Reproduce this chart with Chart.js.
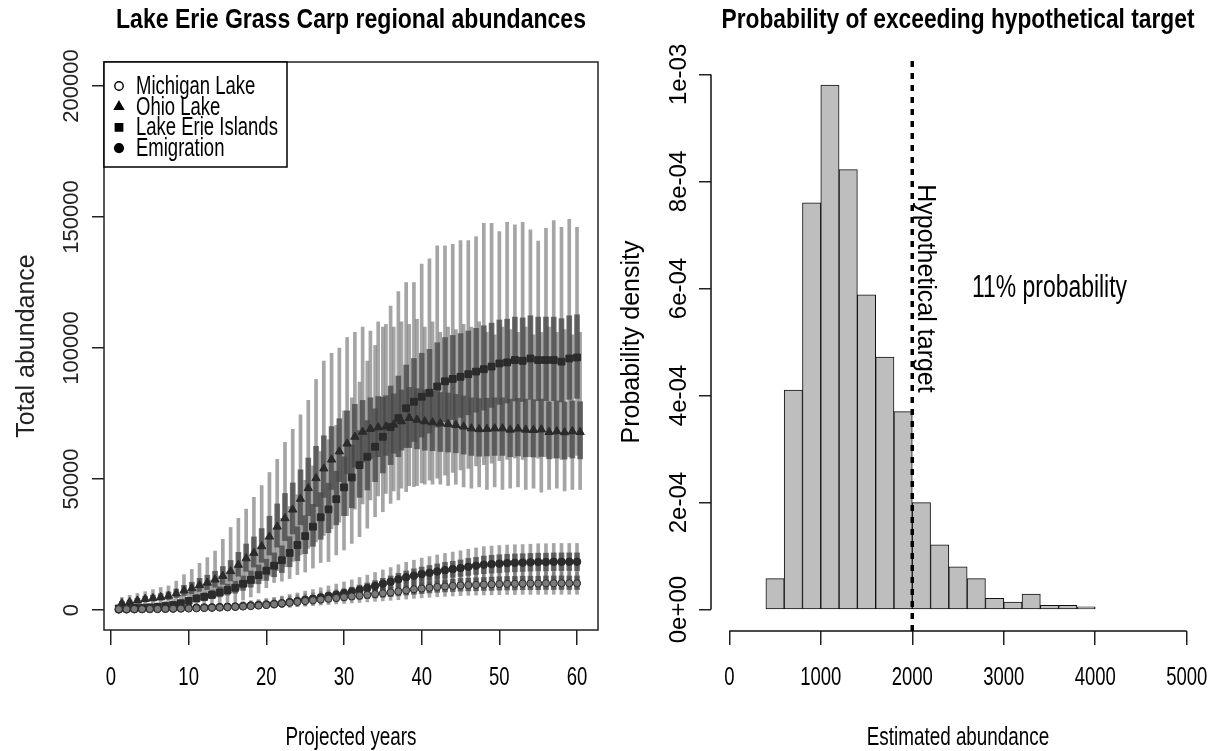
<!DOCTYPE html>
<html><head><meta charset="utf-8">
<script src="https://cdn.jsdelivr.net/npm/chart.js@4.4.1/dist/chart.umd.min.js"></script>
<style>
html,body{margin:0;padding:0;background:#fff;width:1211px;height:751px;overflow:hidden}
#c1{position:absolute;left:0;top:0}
#c2{position:absolute;left:605px;top:0}
</style></head><body>
<canvas id="c1" width="605" height="751"></canvas>
<canvas id="c2" width="606" height="751"></canvas>
<script>
// ---------------- DATA: left panel ----------------
const LEFT_TITLE = 'Lake Erie Grass Carp regional abundances';
const LEFT_X_TITLE = 'Projected years';
const LEFT_Y_TITLE = 'Total abundance';
const SERIES_NAMES = ['Michigan Lake', 'Ohio Lake', 'Lake Erie Islands', 'Emigration'];
const YEARS = [1,2,3,4,5,6,7,8,9,10,11,12,13,14,15,16,17,18,19,20,21,22,23,24,25,26,27,28,29,30,31,32,33,34,35,36,37,38,39,40,41,42,43,44,45,46,47,48,49,50,51,52,53,54,55,56,57,58,59,60];
const X_TICKS = [0,10,20,30,40,50,60];
const X_TICK_LABELS = ['0','10','20','30','40','50','60'];
const Y_TICKS = [0,50000,100000,150000,200000];
const Y_TICK_LABELS = ['0','50000','100000','150000','200000'];

const MICH_MEAN = [300,300,350,350,400,400,450,500,550,600, 650,750,850,950,1050,1200,1350,1500,1700,1900, 2200,2500,2800,3100,3400,3700,4000,4300,4600,4900, 5200,5500,5800,6100,6400,6700,7100,7500,7900,8200, 8500,8800,9000,9200,9400,9500,9600,9700,9800,9900, 10000,10000,10100,10100,10100,10200,10200,10200,10200,10200];
const MICH_LO95 = [0,0,0,0,0,0,0,50,50,100, 100,150,200,250,300,350,400,450,550,650, 800,950,1100,1300,1500,1700,1900,2100,2300,2500, 2700,2900,3100,3300,3500,3700,3950,4200,4450,4650, 4850,5050,5200,5350,5500,5600,5700,5750,5800,5850, 5900,5900,5950,5950,5950,6000,6000,6000,6000,6000];
const MICH_HI95 = [900,900,950,950,1000,1000,1100,1200,1300,1400, 1500,1700,1900,2100,2300,2600,2900,3200,3600,4000, 4500,5000,5400,5800,6200,6600,7000,7400,7800,8200, 8600,9000,9400,9800,10200,10600,11100,11600,12100,12500, 12900,13200,13400,13600,13800,13900,14000,14100,14200,14300, 14400,14400,14500,14500,14500,14600,14600,14600,14600,14600];
const MICH_Q25 = [150,150,200,200,250,250,300,300,350,400, 450,500,550,650,750,850,950,1050,1200,1350, 1550,1800,2000,2250,2500,2700,2950,3200,3400,3650, 3900,4100,4350,4600,4850,5100,5400,5700,6000,6250, 6500,6750,6900,7050,7200,7300,7350,7450,7500,7600, 7650,7650,7750,7750,7750,7800,7800,7800,7800,7800];
const MICH_Q75 = [450,450,500,500,550,550,600,700,750,800, 850,1000,1150,1250,1350,1550,1750,1950,2200,2450, 2850,3250,3600,4000,4400,4750,5150,5550,5900,6300, 6700,7100,7450,7850,8250,8600,9100,9650,10150,10550, 10900,11300,11550,11800,12050,12150,12300,12400,12550,12700, 12800,12800,12900,12900,12900,13000,13000,13000,13000,13000];

const OHIO_MEAN = [2600,3000,3600,4200,4500,4900,5400,6300,7400,8300, 9500,10400,11600,13000,14800,17200,19700,21800,24300,28000, 31800,35000,38300,42400,46500,50300,54000,57400,60500,63500, 66100,68000,69100,69700,70000,70800,72000,73300,72600,72000, 71600,71200,71000,70600,70000,69300,69000,69100,69300,69300, 68800,69200,68800,68700,68900,67900,68200,67800,68200,67900];
const OHIO_LO95 = [600,800,1000,1300,1500,1700,2000,2400,2900,3400, 4000,4500,5000,5800,6600,7800,9000,10000,11200,13000, 15000,16500,18500,21000,23500,26000,28500,31000,33500,36000, 38500,40500,42000,43500,44500,45500,46500,47500,47500,48000, 48000,48000,47500,48000,47000,46500,47000,46000,47000,46000, 46500,47000,46000,46500,45000,46000,46500,45500,46000,46000];
const OHIO_HI95 = [4800,5600,6300,7000,7800,8600,9200,11000,13500,15500, 17800,20000,22500,27000,31500,35000,38500,43000,47500,52500, 57500,64000,69000,74500,80000,88000,95000,98000,100000,104000, 106000,108000,106500,110000,109000,108000,110000,109000,111000,108000, 110000,106000,108000,107000,109000,108000,110000,106000,105000,108000, 107000,106000,108000,105000,106000,108000,106000,107000,105000,106000];
const OHIO_Q25 = [1900,2200,2700,3100,3400,3700,4000,4700,5500,6200, 7100,7800,8700,9800,11100,12900,14800,16400,18200,21000, 24000,26500,29000,32500,36000,39500,43000,46000,49000,52000, 54500,56500,57800,58500,59000,59800,61000,62000,61500,61000, 60800,60500,60300,60000,59500,59000,58700,58800,59000,59000, 58500,58800,58500,58400,58600,57700,58000,57600,58000,57700];
const OHIO_Q75 = [3300,3800,4500,5300,5700,6200,6900,8000,9400,10600, 12100,13300,14800,16600,18900,22000,25200,27900,31100,35800, 40500,44500,48500,53500,58000,62500,66500,70000,73000,76000, 78500,80000,81000,81500,81800,82500,84000,85000,84500,84000, 83500,83000,82800,82300,81700,81000,80700,80800,81000,81000, 80500,80800,80500,80300,80500,79500,79800,79400,79800,79500];

const LEI_MEAN = [600,700,800,900,1000,1200,1500,1900,2600,3500, 4400,5000,5800,6700,7600,8500,10000,11500,13300,15000, 16900,19000,21800,24800,28200,31800,35400,38400,42300,46800, 50600,55300,58500,62300,66100,69800,73200,77000,79500,81400, 82900,85300,87300,88200,89000,90000,91000,91900,92900,94100, 94500,95400,95100,96000,95400,95400,95400,94800,96000,96400];
const LEI_LO95 = [0,0,0,0,100,150,200,300,500,700, 900,1200,1500,1900,2400,3000,3800,5000,6500,8500, 10500,11000,12000,13500,14500,16000,18100,18500,21000,22900, 25400,28000,31200,35600,37500,40700,42000,45200,47100,48500, 49600,50300,51500,52500,53500,54000,55000,55500,56000,57000, 57500,58000,57500,58500,58000,58500,58000,57500,58500,59000];
const LEI_HI95 = [1500,1700,1900,2100,2400,2800,3400,4200,5500,7000, 8700,10000,11500,13000,14500,16000,18500,21000,24000,27500, 31000,35000,39500,44000,49500,55000,60500,65000,70500,76000, 81000,87000,95000,101000,108000,116000,121500,125000,125000,132000, 134000,139000,139000,139600,141000,141000,142500,147600,147600,144400, 148000,147000,148000,145100,140800,145700,148600,146100,149100,146100];
const LEI_Q25 = [300,400,500,550,650,800,1000,1300,1800,2500, 3200,3700,4300,5000,5700,6400,7500,8700,10000,11300, 12700,14300,16500,18800,21500,24300,27000,29500,32500,36000, 39000,43000,45800,49000,52300,55500,58500,62000,64300,66000, 67500,69800,71800,72700,73500,74500,75500,76300,77300,78500, 79000,79800,79600,80400,79900,79900,79900,79400,80400,80800];
const LEI_Q75 = [900,1000,1100,1300,1400,1700,2100,2600,3500,4700, 5800,6600,7600,8800,9900,11000,13000,14900,17200,19400, 21800,24500,28000,31800,36000,40300,44800,48400,53000,58500, 63000,68500,72300,76800,81200,85500,89300,93500,96000,98000, 99500,102000,104000,104800,105500,106500,107500,108500,109500,110700, 111000,111800,111500,112300,111800,111800,111800,111200,112300,112700];

const EMIG_MEAN = [200,250,300,350,400,450,500,550,650,750, 850,950,1000,1100,1200,1300,1500,1700,1900,2100, 2300,2600,3000,3400,3900,4300,4800,5300,5800,6400, 7000,7700,8400,9200,10000,10800,11700,12500,13100,13700, 14200,14700,15200,15600,16000,16500,16900,17300,17500,17700, 17900,18000,18100,18200,18300,18300,18400,18400,18400,18400];
const EMIG_LO95 = [0,0,0,0,0,0,0,50,100,150, 200,250,250,300,350,400,450,500,600,700, 800,950,1100,1300,1600,1900,2200,2600,3000,3400, 3800,4300,4800,5400,6000,6600,7200,7800,8300,8700, 9100,9500,9800,10100,10400,10700,11000,11300,11400,11500, 11700,11800,11800,11900,12000,12000,12000,12000,12000,12000];
const EMIG_HI95 = [700,750,800,900,1000,1100,1200,1300,1500,1700, 1900,2100,2200,2400,2600,2800,3200,3600,4000,4400, 4800,5300,5900,6500,7200,7800,8500,9200,9900,10700, 11500,12400,13300,14300,15300,16200,17300,18200,19000,19800, 20400,21000,21600,22100,22600,23200,23700,24200,24400,24600, 24800,24900,25000,25100,25300,25300,25400,25400,25400,25400];
const EMIG_Q25 = [100,120,150,180,220,250,280,320,400,450, 550,620,650,720,800,870,1000,1150,1300,1450, 1600,1800,2100,2400,2800,3100,3500,3900,4300,4800, 5300,5900,6500,7100,7800,8500,9200,9900,10400,10900, 11300,11700,12100,12500,12800,13200,13600,13900,14100,14300, 14500,14600,14700,14800,14900,14900,15000,15000,15000,15000];
const EMIG_Q75 = [300,370,450,520,600,670,750,800,950,1100, 1200,1350,1400,1550,1650,1800,2000,2300,2550,2800, 3050,3400,3900,4400,5000,5500,6100,6700,7300,8000, 8700,9500,10300,11200,12100,13000,14000,14900,15700,16400, 17000,17600,18200,18600,19100,19700,20100,20600,20900,21100, 21300,21400,21500,21600,21700,21700,21800,21800,21800,21800];

// ---------------- DATA: right panel ----------------
const RIGHT_TITLE = 'Probability of exceeding hypothetical target';
const RIGHT_X_TITLE = 'Estimated abundance';
const RIGHT_Y_TITLE = 'Probability density';
const BIN_EDGES = [400,600,800,1000,1200,1400,1600,1800,2000,2200,2400,2600,2800,3000,3200,3400,3600,3800,4000];
const DENSITY = [0.58e-4,4.1e-4,7.6e-4,9.8e-4,8.22e-4,5.88e-4,4.72e-4,3.7e-4,2.0e-4,1.21e-4,0.8e-4,0.58e-4,0.21e-4,0.14e-4,0.29e-4,0.08e-4,0.08e-4,0.05e-4];
const TARGET = 2000;
const TARGET_LABEL = 'Hypothetical target';
const PROB_LABEL = '11% probability';
const RX_TICKS = [0,1000,2000,3000,4000,5000];
const RX_TICK_LABELS = ['0','1000','2000','3000','4000','5000'];
const RY_TICKS = [0,2e-4,4e-4,6e-4,8e-4,1e-3];
const RY_TICK_LABELS = ['0e+00','2e-04','4e-04','6e-04','8e-04','1e-03'];

// ---------------- styles ----------------
const REG = '"Liberation Sans", Arial, sans-serif';
const SX = 0.74;   // horizontal text squeeze
Chart.defaults.font.family = REG;
Chart.defaults.color = '#000';

const SERIES = [
  {mean:MICH_MEAN, lo:MICH_LO95, hi:MICH_HI95, q1:MICH_Q25, q3:MICH_Q75},
  {mean:OHIO_MEAN, lo:OHIO_LO95, hi:OHIO_HI95, q1:OHIO_Q25, q3:OHIO_Q75},
  {mean:LEI_MEAN,  lo:LEI_LO95,  hi:LEI_HI95,  q1:LEI_Q25,  q3:LEI_Q75},
  {mean:EMIG_MEAN, lo:EMIG_LO95, hi:EMIG_HI95, q1:EMIG_Q25, q3:EMIG_Q75}
];
const STYLES = [
  {shape:'circle',   r:3.6, fill:'#7a7a7a', dx:0,   lg:{r:4.2, fill:'#fff'}},
  {shape:'triangle', r:4.8, fill:'#2b2b2b', dx:0.4, lg:{r:5.2, fill:'#000'}},
  {shape:'rect',     r:4.8, fill:'#2b2b2b', dx:0,   lg:{r:5.2, fill:'#000'}},
  {shape:'circle',   r:3.8, fill:'#2b2b2b', dx:0,   lg:{r:4.4, fill:'#000'}}
];

const thin = [], thick = [], pts = [];
SERIES.forEach((s, k) => {
  const st = STYLES[k];
  const xs = YEARS.map(y => y + st.dx);
  thin.push({type:'bar', label:SERIES_NAMES[k]+' range', data: xs.map((x,i)=>({x:x, y:[s.lo[i], s.hi[i]]})),
    backgroundColor:'rgba(110,110,110,0.62)', borderWidth:0, barThickness:3, grouped:false, order:3});
  thick.push({type:'bar', label:SERIES_NAMES[k]+' core', data: xs.map((x,i)=>({x:x, y:[s.q1[i], s.q3[i]]})),
    backgroundColor:'rgba(72,72,72,0.78)', borderWidth:0, barThickness:5, grouped:false, order:2});
  pts.push({type:'scatter', label:SERIES_NAMES[k], data: xs.map((x,i)=>({x:x, y:s.mean[i]})),
    pointStyle:st.shape, pointRadius:st.r, pointBackgroundColor:st.fill, pointBorderColor:'#2a2a2a',
    pointBorderWidth:1, showLine:false, order:1});
});

const axisGrid = (len) => ({drawOnChartArea:false, drawTicks:true, tickLength:len, color:'#222', lineWidth:1.5, offset:false});

// squeezed horizontal text (R device renders horizontal text condensed)
function sText(ctx, text, x, y, size, align, bold) {
  ctx.save();
  ctx.font = (bold ? 'bold ' : '') + size + 'px ' + REG;
  ctx.translate(x, y);
  ctx.scale(SX, 1);
  ctx.textAlign = align; ctx.textBaseline = 'middle';
  ctx.fillStyle = '#000';
  ctx.fillText(text, 0, 0);
  ctx.restore();
}
function drawTitle(chart, text, width) {
  const ctx = chart.ctx, a = chart.chartArea;
  ctx.save();
  ctx.font = 'bold 28px ' + REG;
  ctx.textAlign = 'center'; ctx.textBaseline = 'middle'; ctx.fillStyle = '#000';
  ctx.fillText(text, (a.left + a.right) / 2, 20, width);
  ctx.restore();
}
function drawXLabels(chart, ticks, labels, title) {
  const ctx = chart.ctx, xs = chart.scales.x, a = chart.chartArea;
  ticks.forEach((v, i) => sText(ctx, labels[i], xs.getPixelForValue(v), 678, 25, 'center'));
  sText(ctx, title, (a.left + a.right) / 2, 738, 25.5, 'center');
}

const leftPlugin = {
  id:'rleft',
  afterDraw(chart){
    const ctx = chart.ctx, a = chart.chartArea;
    ctx.save();
    ctx.strokeStyle = '#222'; ctx.lineWidth = 1.5;
    ctx.strokeRect(a.left, a.top, a.right - a.left, a.bottom - a.top);
    // legend
    const bx = a.left, by = a.top, bw = 183, bh = 105;
    ctx.fillStyle = '#fff';
    ctx.fillRect(bx, by, bw, bh);
    ctx.strokeStyle = '#000';
    ctx.strokeRect(bx, by, bw, bh);
    SERIES_NAMES.forEach((name, k) => {
      const y = by + 24 + k * 20.7;
      const st = STYLES[k];
      ctx.fillStyle = st.lg.fill; ctx.strokeStyle = '#000'; ctx.lineWidth = 1.4;
      Chart.helpers.drawPoint(ctx, {pointStyle:st.shape, radius:st.lg.r, borderWidth:1.4, rotation:0}, bx + 15, y);
      sText(ctx, name, bx + 32, y + 1, 25, 'left');
    });
    ctx.restore();
    drawTitle(chart, LEFT_TITLE, 470);
    drawXLabels(chart, X_TICKS, X_TICK_LABELS, LEFT_X_TITLE);
  }
};

new Chart(document.getElementById('c1'), {
  type:'bar',
  data:{datasets:[...pts, ...thick, ...thin]},
  options:{
    responsive:false, animation:false, devicePixelRatio:1,
    layout:{padding:{left:0, right:7, top:62, bottom:0}},
    plugins:{legend:{display:false}, tooltip:{enabled:false}, title:{display:false}},
    scales:{
      x:{type:'linear', min:-0.9, max:62.7, offset:false,
        afterBuildTicks:s=>{s.ticks = X_TICKS.map(v=>({value:v}));},
        afterFit:s=>{s.height = 121;},
        ticks:{display:false, autoSkip:false},
        grid:axisGrid(15), border:{display:false}
      },
      y:{type:'linear', min:-7630, max:209160,
        afterBuildTicks:s=>{s.ticks = Y_TICKS.map(v=>({value:v}));},
        afterFit:s=>{s.width = 104;},
        ticks:{autoSkip:false, minRotation:90, maxRotation:90, crossAlign:'center', padding:-16.7, color:'#222',
          font:{family:REG, size:22}, callback:(v,i)=>Y_TICK_LABELS[i]},
        grid:axisGrid(12), border:{display:false},
        title:{display:true, text:LEFT_Y_TITLE, color:'#222', font:{family:REG, size:25}, padding:{top:12, bottom:0}}
      }
    }
  },
  plugins:[leftPlugin]
});

const histPlugin = {
  id:'rhist',
  afterDraw(chart){
    const ctx = chart.ctx, a = chart.chartArea;
    const xs = chart.scales.x, ys = chart.scales.y;
    ctx.save();
    ctx.strokeStyle = '#111'; ctx.lineWidth = 1.5;
    ctx.beginPath();
    ctx.moveTo(a.left, ys.getPixelForValue(RY_TICKS[0]));
    ctx.lineTo(a.left, ys.getPixelForValue(RY_TICKS[RY_TICKS.length-1]));
    ctx.moveTo(xs.getPixelForValue(RX_TICKS[0]), a.bottom);
    ctx.lineTo(xs.getPixelForValue(RX_TICKS[RX_TICKS.length-1]), a.bottom);
    ctx.stroke();
    // target line
    const tx = xs.getPixelForValue(TARGET);
    ctx.strokeStyle = '#000'; ctx.lineWidth = 3.5; ctx.setLineDash([6,6]);
    ctx.beginPath(); ctx.moveTo(tx, a.top + 8); ctx.lineTo(tx, a.bottom); ctx.stroke();
    ctx.setLineDash([]);
    // target label (rotated)
    ctx.save();
    ctx.fillStyle = '#000';
    ctx.translate(tx + 13, ys.getPixelForValue(6e-4));
    ctx.rotate(Math.PI/2);
    ctx.font = '25px ' + REG; ctx.textAlign = 'center'; ctx.textBaseline = 'middle';
    ctx.fillText(TARGET_LABEL, 0, 0);
    ctx.restore();
    sText(ctx, PROB_LABEL, xs.getPixelForValue(3500), ys.getPixelForValue(6e-4), 31, 'center');
    ctx.restore();
    drawTitle(chart, RIGHT_TITLE, 473);
    drawXLabels(chart, RX_TICKS, RX_TICK_LABELS, RIGHT_X_TITLE);
  }
};

new Chart(document.getElementById('c2'), {
  type:'bar',
  data:{datasets:[{label:'density', data: DENSITY.map((d,i)=>({x:(BIN_EDGES[i]+BIN_EDGES[i+1])/2, y:d})),
    backgroundColor:'#bebebe', borderColor:'#111', borderWidth:1, borderSkipped:false,
    barPercentage:1, categoryPercentage:1}]},
  options:{
    responsive:false, animation:false, devicePixelRatio:1,
    layout:{padding:{left:0, right:6, top:53, bottom:0}},
    plugins:{legend:{display:false}, tooltip:{enabled:false}, title:{display:false}},
    scales:{
      x:{type:'linear', min:-200, max:5200, offset:false,
        afterBuildTicks:s=>{s.ticks = RX_TICKS.map(v=>({value:v}));},
        afterFit:s=>{s.height = 120;},
        ticks:{display:false, autoSkip:false},
        grid:axisGrid(14), border:{display:false}
      },
      y:{type:'linear', min:-4e-5, max:1.04e-3,
        afterBuildTicks:s=>{s.ticks = RY_TICKS.map(v=>({value:v}));},
        afterFit:s=>{s.width = 106;},
        ticks:{autoSkip:false, minRotation:90, maxRotation:90, crossAlign:'center', padding:-13.7, color:'#000',
          font:{family:REG, size:24}, callback:(v,i)=>RY_TICK_LABELS[i]},
        grid:axisGrid(12), border:{display:false},
        title:{display:true, text:RIGHT_Y_TITLE, color:'#000', font:{family:REG, size:25}, padding:{top:12, bottom:0}}
      }
    }
  },
  plugins:[histPlugin]
});
</script>
</body></html>
